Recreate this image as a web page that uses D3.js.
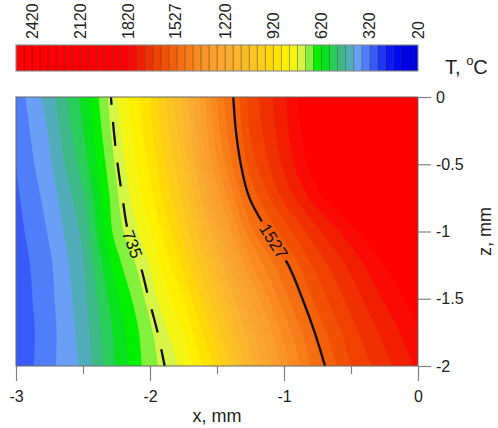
<!DOCTYPE html>
<html>
<head>
<meta charset="utf-8">
<script src="https://cdn.jsdelivr.net/npm/d3@7"></script>
<style>
  html, body { margin: 0; padding: 0; background: #fff; }
  svg { display: block; font-family: Arial, "Liberation Sans", sans-serif; }
</style>
</head>
<body>
<svg id="chart" width="498" height="428"></svg>
<script>
// ---- data ---------------------------------------------------------------
// Sample positions of the temperature field, mm
const xNodes = [-3, -2.75, -2.5, -2.25, -2, -1.75, -1.5, -1.25, -1, -0.75, -0.5, -0.25, 0];
const zNodes = [0, -0.25, -0.5, -0.75, -1, -1.25, -1.5, -1.75, -2];

// Temperature, °C: one row per depth z (top to bottom), one column per x
const temperature = [
  [340, 445, 585, 765, 920, 1130, 1420, 1640, 1760, 1900, 2050, 2200, 2350],
  [330, 425, 565, 750, 905, 1105, 1400, 1625, 1750, 1885, 2030, 2170, 2300],
  [320, 410, 540, 730, 880, 1070, 1360, 1595, 1730, 1860, 1995, 2125, 2230],
  [310, 390, 505, 710, 850, 1030, 1290, 1535, 1680, 1800, 1905, 2030, 2120],
  [300, 375, 480, 695, 810,  985, 1210, 1455, 1595, 1710, 1800, 1900, 2000],
  [290, 360, 460, 650, 770,  930, 1130, 1360, 1510, 1640, 1735, 1820, 1910],
  [285, 355, 450, 610, 740,  870, 1060, 1270, 1450, 1590, 1690, 1775, 1850],
  [280, 350, 440, 585, 710,  820,  995, 1200, 1385, 1540, 1650, 1735, 1810],
  [280, 355, 430, 575, 700,  780,  940, 1150, 1340, 1500, 1620, 1700, 1780]
];

// Filled contour levels (lower edge of each 50 °C band)
const bandLevels = d3.range(20, 2520, 50);
// Labelled isotherms
const isoValues = [735, 1527];
// Colour-bar tick labels
const scaleTicks = [2420, 2120, 1820, 1527, 1220, 920, 620, 320, 20];
const xTicks = [-3, -2, -1, 0];
const xMinorTicks = [-2.5, -1.5, -0.5];
const zTicks = [0, -0.5, -1, -1.5, -2];

// ---- styles -------------------------------------------------------------
// One colour per band, from the coldest band upwards
const bandColors = [
  "rgb(0,0,225)", "rgb(0,0,235)", "rgb(0,10,240)", "rgb(10,25,245)", "rgb(30,55,245)",
  "rgb(55,90,248)", "rgb(80,125,250)", "rgb(105,160,245)", "rgb(80,172,185)", "rgb(60,185,135)",
  "rgb(40,205,90)", "rgb(10,225,30)", "rgb(0,240,0)", "rgb(130,240,60)", "rgb(215,245,70)",
  "rgb(245,245,20)", "rgb(255,240,0)", "rgb(255,228,0)", "rgb(255,215,10)", "rgb(253,205,25)",
  "rgb(252,196,35)", "rgb(251,188,40)", "rgb(250,180,45)", "rgb(250,172,48)", "rgb(250,165,48)",
  "rgb(250,158,45)", "rgb(249,148,40)", "rgb(248,138,33)", "rgb(247,125,25)", "rgb(245,110,18)",
  "rgb(244,95,10)", "rgb(242,80,5)", "rgb(240,65,0)", "rgb(240,48,0)", "rgb(242,30,0)",
  "rgb(250,10,4)", "rgb(255,0,0)", "rgb(255,0,0)", "rgb(255,0,0)", "rgb(255,0,0)",
  "rgb(255,0,0)", "rgb(255,0,0)", "rgb(255,0,0)", "rgb(255,0,0)", "rgb(255,0,0)",
  "rgb(255,0,0)", "rgb(255,0,0)", "rgb(255,0,0)", "rgb(255,0,0)", "rgb(255,0,0)"
];
const textColor = "#222";
const axisColor = "#808080";

// ---- layout -------------------------------------------------------------
const plot = { left: 16, right: 418, top: 97, bottom: 366 };
const bar = { left: 16, right: 418, top: 45, bottom: 71 };
const labelY = { 735: 244, 1527: 241 };      // where each isotherm carries its label
const labelGap = { 735: 36, 1527: 46 };

const svg = d3.select("#chart");
const defs = svg.append("defs");

const x = d3.scaleLinear().domain([-3, 0]).range([plot.left, plot.right]);
const z = d3.scaleLinear().domain([0, -2]).range([plot.top, plot.bottom]);
const tScale = d3.scaleLinear().domain([2520, 20]).range([bar.left, bar.right]);

// ---- colour bar ---------------------------------------------------------
const barG = svg.append("g");
barG.selectAll("rect.cell").data(bandLevels).join("rect")
  .attr("class", "cell")
  .attr("x", d => tScale(d + 50))
  .attr("y", bar.top)
  .attr("width", d => tScale(d) - tScale(d + 50))
  .attr("height", bar.bottom - bar.top)
  .attr("fill", (d, i) => bandColors[i])
  .attr("stroke", "rgba(0,0,0,0.3)")
  .attr("stroke-width", 0.8);
barG.append("rect")
  .attr("x", bar.left).attr("y", bar.top)
  .attr("width", bar.right - bar.left).attr("height", bar.bottom - bar.top)
  .attr("fill", "none").attr("stroke", "#999").attr("stroke-width", 1);

barG.selectAll("text.tick").data(scaleTicks).join("text")
  .attr("class", "tick")
  .attr("transform", d => `translate(${tScale(d)},${bar.top - 6}) rotate(-90)`)
  .attr("dy", "0.35em")
  .attr("text-anchor", "start")
  .attr("font-size", 16)
  .attr("fill", textColor)
  .text(d => d);

const tLabel = svg.append("text")
  .attr("x", 445).attr("y", 74)
  .attr("font-size", 20).attr("fill", textColor);
tLabel.append("tspan").text("T, ");
tLabel.append("tspan").attr("font-size", 13).attr("dy", -9).text("o");
tLabel.append("tspan").attr("dy", 9).text("C");

// ---- temperature field --------------------------------------------------
// Temperature rises monotonically with x along every row, so each row gives
// a piecewise-linear map from temperature back to the x position.
const rowScales = temperature.map(row => d3.scaleLinear().domain(row).range(xNodes).clamp(true));
const crossings = t => zNodes.map((zv, i) => ({ z: zv, x: rowScales[i](t) }));

defs.append("clipPath").attr("id", "plotClip").append("rect")
  .attr("x", plot.left).attr("y", plot.top)
  .attr("width", plot.right - plot.left).attr("height", plot.bottom - plot.top);

const field = svg.append("g").attr("clip-path", "url(#plotClip)");
const minIdx = Math.max(0, d3.bisectRight(bandLevels, d3.min(temperature.flat())) - 1);
field.append("rect")
  .attr("x", plot.left).attr("y", plot.top)
  .attr("width", plot.right - plot.left).attr("height", plot.bottom - plot.top)
  .attr("fill", bandColors[minIdx]);

// region T >= level: from the isotherm to the right edge
const bandArea = d3.area()
  .curve(d3.curveCatmullRom.alpha(0.5))
  .y(d => z(d.z))
  .x0(d => x(d.x))
  .x1(plot.right + 4);

field.selectAll("path.band").data(bandLevels).join("path")
  .attr("class", "band")
  .attr("d", t => bandArea(crossings(t)))
  .attr("fill", (t, i) => bandColors[i])
  .attr("stroke", (t, i) => bandColors[i])
  .attr("stroke-width", 0.6);

// ---- isotherms ----------------------------------------------------------
const isoLine = d3.line()
  .curve(d3.curveCatmullRom.alpha(0.5))
  .x(d => x(d.x))
  .y(d => z(d.z));

// dash pattern that breaks cleanly for the label and restarts after it
function labelledDash(total, gapStart, gapEnd) {
  const dash = 24, space = 17, out = [];
  let pos = 0, on = true, first = true;
  while (pos < gapStart) {
    let seg = on ? (first ? 8 : dash) : space;
    first = false;
    if (pos + seg > gapStart) seg = gapStart - pos;
    out.push(seg); pos += seg; on = !on;
  }
  if (on) { out.push(0); on = false; }
  const resume = gapEnd + 9;
  out.push(resume - pos); pos = resume; on = true;
  while (pos < total) {
    const seg = on ? dash : space;
    out.push(seg); pos += seg; on = !on;
  }
  if (out.length % 2) out.push(space);
  return out.join(" ");
}

const mask = defs.append("mask").attr("id", "labelGaps")
  .attr("maskUnits", "userSpaceOnUse")
  .attr("x", 0).attr("y", 0).attr("width", 498).attr("height", 428);
mask.append("rect").attr("x", 0).attr("y", 0).attr("width", 498).attr("height", 428).attr("fill", "#fff");

const lineG = svg.append("g").attr("mask", "url(#labelGaps)");
const labelG = svg.append("g");

isoValues.forEach(t => {
  const path = lineG.append("path")
    .attr("d", isoLine(crossings(t)))
    .attr("fill", "none")
    .attr("stroke", "#111")
    .attr("stroke-width", 2.3)
    .attr("stroke-linecap", "butt");

  // label position along the curve
  const node = path.node();
  const total = node.getTotalLength();
  let bestL = 0, bestD = Infinity;
  for (let L = 0; L <= total; L += 0.5) {
    const p = node.getPointAtLength(L);
    const d = Math.abs(p.y - labelY[t]);
    if (d < bestD) { bestD = d; bestL = L; }
  }
  const c = node.getPointAtLength(bestL);
  const p0 = node.getPointAtLength(Math.max(0, bestL - 10));
  const p1 = node.getPointAtLength(Math.min(total, bestL + 10));
  const ang = Math.atan2(p1.y - p0.y, p1.x - p0.x) * 180 / Math.PI;

  if (t === 735) {
    path.attr("stroke-dasharray",
      labelledDash(total, bestL - labelGap[t] / 2, bestL + labelGap[t] / 2));
  }

  mask.append("rect")
    .attr("x", -labelGap[t] / 2).attr("y", -8)
    .attr("width", labelGap[t]).attr("height", 16)
    .attr("transform", `translate(${c.x},${c.y}) rotate(${ang})`)
    .attr("fill", "#000");

  labelG.append("text")
    .attr("transform", `translate(${c.x},${c.y}) rotate(${ang})`)
    .attr("text-anchor", "middle")
    .attr("dy", "0.35em")
    .attr("font-size", 17)
    .attr("fill", "#111")
    .text(t);
});

// ---- frame and axes -----------------------------------------------------
svg.append("rect")
  .attr("x", plot.left).attr("y", plot.top)
  .attr("width", plot.right - plot.left).attr("height", plot.bottom - plot.top)
  .attr("fill", "none").attr("stroke", "#666").attr("stroke-width", 1);

function styleAxis(g) {
  g.select(".domain").remove();
  g.selectAll(".tick line").attr("stroke", axisColor).attr("stroke-width", 1.2);
  g.selectAll(".tick text").attr("fill", textColor).attr("font-size", 16)
    .attr("font-family", "Arial, 'Liberation Sans', sans-serif");
}

svg.append("g")
  .attr("transform", `translate(0,${plot.bottom})`)
  .call(d3.axisBottom(x).tickValues(xTicks).tickSize(15).tickPadding(10).tickFormat(d => String(d)))
  .call(styleAxis);
svg.append("g")
  .attr("transform", `translate(0,${plot.bottom})`)
  .call(d3.axisBottom(x).tickValues(xMinorTicks).tickSize(8).tickFormat(""))
  .call(styleAxis);
svg.append("g")
  .attr("transform", `translate(${plot.right},0)`)
  .call(d3.axisRight(z).tickValues(zTicks).tickSize(13).tickPadding(5).tickFormat(d => String(d)))
  .call(styleAxis);

svg.append("text")
  .attr("x", x(-1.5)).attr("y", 422)
  .attr("text-anchor", "middle")
  .attr("font-size", 18).attr("fill", textColor)
  .text("x, mm");
svg.append("text")
  .attr("transform", `translate(491,${z(-1)}) rotate(-90)`)
  .attr("text-anchor", "middle")
  .attr("font-size", 18).attr("fill", textColor)
  .text("z, mm");
</script>
</body>
</html>
